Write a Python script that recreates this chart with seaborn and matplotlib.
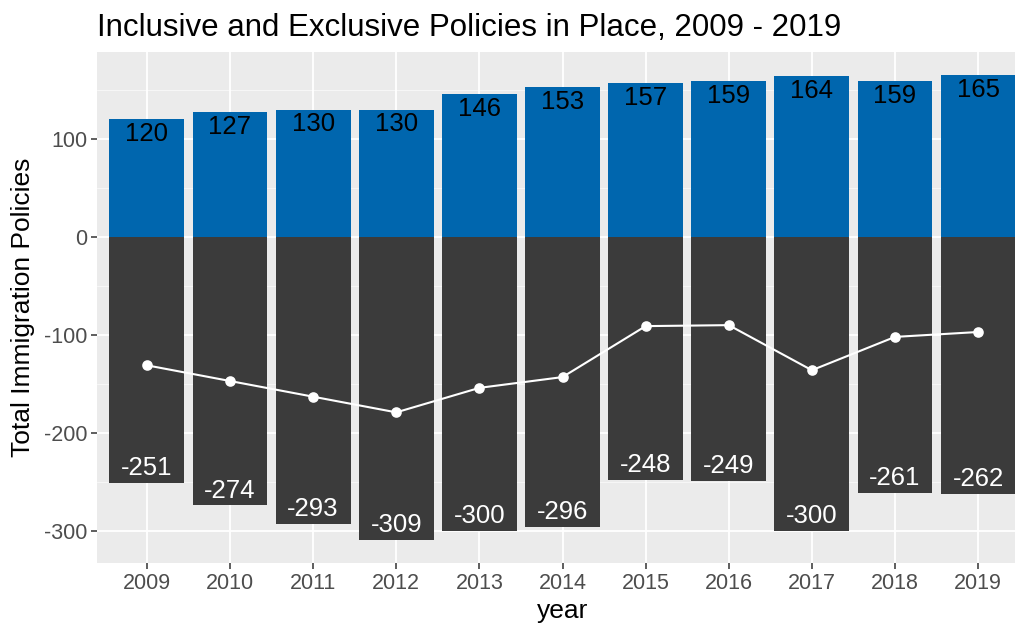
import numpy as np
import pandas as pd
import matplotlib
matplotlib.use("Agg")
import matplotlib.pyplot as plt
import seaborn as sns

# Policy counts per year
years = [2009, 2010, 2011, 2012, 2013, 2014, 2015, 2016, 2017, 2018, 2019]
inclusive = [120, 127, 130, 130, 146, 153, 157, 159, 164, 159, 165]
exclusive = [-251, -274, -293, -309, -300, -296, -248, -249, -300, -261, -262]
net = [i + e for i, e in zip(inclusive, exclusive)]

df = pd.DataFrame({"year": years, "inclusive": inclusive,
                   "exclusive": exclusive, "net": net})

sns.set_theme(style="darkgrid")
plt.rcParams["font.family"] = ["Liberation Sans", "DejaVu Sans"]
plt.rcParams["axes.unicode_minus"] = False

fig = plt.figure(figsize=(10.15, 6.27), dpi=100)
ax = fig.add_axes([97 / 1015, 1 - 563 / 627, (1028 - 97) / 1015, (563 - 52) / 627])
ax.set_facecolor("#EBEBEB")

blue = "#0066AE"
dark = "#3B3B3B"

sns.barplot(data=df, x="year", y="inclusive", color=blue, width=0.9,
            saturation=1, ax=ax, zorder=2, edgecolor="none", linewidth=0)
sns.barplot(data=df, x="year", y="exclusive", color=dark, width=0.9,
            saturation=1, ax=ax, zorder=2, edgecolor="none", linewidth=0)
sns.pointplot(data=df, x="year", y="net", color="white", markers="o",
              markersize=6.5, linewidth=1.5, ax=ax, zorder=4)

for k, (i, e) in enumerate(zip(inclusive, exclusive)):
    ax.text(k, i - 3, str(i), ha="center", va="top", fontsize=18.5,
            color="black", zorder=5)
    ax.text(k, e + 3, str(e), ha="center", va="bottom", fontsize=18.5,
            color="white", zorder=5)

ax.set_xlim(-0.6, 10.6)
ax.set_ylim(-332.7, 188.7)
ax.set_yticks([-300, -200, -100, 0, 100])
ax.set_yticks([-250, -150, -50, 50, 150], minor=True)
ax.grid(True, which="major", color="white", linewidth=1.3)
ax.grid(True, which="minor", color="white", linewidth=0.6, alpha=0.7)
ax.set_axisbelow(True)
for s in ax.spines.values():
    s.set_visible(False)

ax.tick_params(axis="both", which="major", length=4, width=1.1,
               color="#333333", labelsize=15.5, labelcolor="#4D4D4D", pad=3,
               bottom=True, left=True)
ax.tick_params(axis="both", which="minor", length=0)

ax.set_xlabel("year", fontsize=19, color="black", labelpad=4)
ax.set_ylabel("Total Immigration Policies", fontsize=19, color="black", labelpad=6)

fig.text(97 / 1015, 1 - 36 / 627, "Inclusive and Exclusive Policies in Place, 2009 - 2019",
         fontsize=22.5, color="black", ha="left", va="baseline")

fig.savefig("out.png", dpi=100)
